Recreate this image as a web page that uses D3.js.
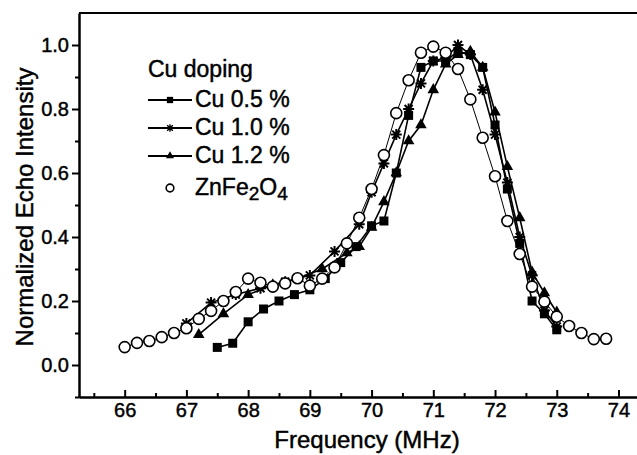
<!DOCTYPE html>
<html>
<head>
<meta charset="utf-8">
<script src="https://cdn.jsdelivr.net/npm/d3@7"></script>
<style>
  body { margin: 0; background: #fff; }
  svg { display: block; font-family: "Liberation Sans", Arial, sans-serif; }
  svg text { fill: #000; stroke: #000; stroke-width: 0.45px; }
  .axis path, .axis line { stroke: #000; stroke-width: 2px; }
  .axis text { font-size: 20px; }
</style>
</head>
<body>
<svg id="chart"></svg>
<script>
// data
const freqZn = [66.0, 66.2, 66.4, 66.6, 66.8, 67.0, 67.2, 67.4, 67.6, 67.8, 68.0, 68.2, 68.4, 68.6, 68.8, 69.0, 69.2, 69.4, 69.6, 69.8,
                70.0, 70.2, 70.4, 70.6, 70.8, 71.0, 71.2, 71.4, 71.6, 71.8, 72.0, 72.2, 72.4, 72.6, 72.8, 73.0, 73.2, 73.4, 73.6, 73.8];
const valZn = [0.056, 0.069, 0.075, 0.087, 0.100, 0.115, 0.144, 0.169, 0.200, 0.228, 0.270, 0.257, 0.245, 0.255, 0.271, 0.248, 0.270, 0.305, 0.38, 0.46,
               0.55, 0.656, 0.787, 0.89, 0.976, 0.995, 0.976, 0.925, 0.83, 0.71, 0.59, 0.45, 0.347, 0.245, 0.198, 0.151, 0.122, 0.100, 0.081, 0.082];

const freqCu05 = [67.5, 67.75, 68.0, 68.25, 68.5, 68.75, 69.0, 69.25, 69.5, 69.75, 70.0, 70.2, 70.4, 70.6, 70.8, 71.0, 71.2, 71.4, 71.6, 71.8, 72.0, 72.2, 72.4, 72.6, 72.8, 73.0];
const valCu05 = [0.055, 0.068, 0.135, 0.175, 0.20, 0.22, 0.235, 0.27, 0.32, 0.37, 0.435, 0.45, 0.60, 0.78, 0.93, 0.95, 0.95, 0.98, 0.97, 0.93, 0.75, 0.55, 0.38, 0.20, 0.16, 0.11];

const freqCu10 = [67.0, 67.4, 67.8, 68.2, 68.6, 69.0, 69.4, 69.8, 70.0, 70.2, 70.4, 70.6, 70.8, 71.0, 71.2, 71.4, 71.6, 71.8, 72.0, 72.2, 72.4, 72.6, 72.8, 73.0];
const valCu10 = [0.13, 0.195, 0.22, 0.24, 0.26, 0.28, 0.355, 0.44, 0.54, 0.63, 0.72, 0.80, 0.88, 0.95, 0.96, 1.0, 0.97, 0.86, 0.72, 0.57, 0.40, 0.28, 0.17, 0.12];

const freqCu12 = [67.2, 67.6, 68.0, 68.4, 68.8, 69.2, 69.6, 69.8, 70.0, 70.2, 70.4, 70.6, 70.8, 71.0, 71.2, 71.4, 71.6, 71.8, 72.0, 72.2, 72.4, 72.6, 72.8, 73.0];
const valCu12 = [0.095, 0.16, 0.22, 0.25, 0.27, 0.30, 0.35, 0.37, 0.43, 0.51, 0.60, 0.70, 0.75, 0.86, 0.94, 0.97, 0.98, 0.93, 0.79, 0.62, 0.46, 0.29, 0.225, 0.165];

const xMajor = [66, 67, 68, 69, 70, 71, 72, 73, 74];
const yMajor = [0.0, 0.2, 0.4, 0.6, 0.8, 1.0];

const W = 637, H = 455;
const margin = { top: 13, right: 0, bottom: 58, left: 79 };

const svg = d3.select("#chart").attr("width", W).attr("height", H);

const x = d3.scaleLinear().domain([65.26, 74.3]).range([margin.left, W - margin.right]);
const y = d3.scaleLinear().domain([-0.1, 1.1]).range([H - margin.bottom, margin.top]);

// top frame line
svg.append("line")
    .attr("x1", margin.left).attr("x2", W)
    .attr("y1", margin.top).attr("y2", margin.top)
    .attr("stroke", "#000").attr("stroke-width", 2);

// x axis: ticks pointing inward
const xMinor = d3.range(65.5, 74.5, 1);
svg.append("g").attr("class", "axis")
    .attr("transform", `translate(0,${H - margin.bottom})`)
    .call(d3.axisBottom(x).tickValues(xMinor).tickSizeInner(-4).tickSizeOuter(0).tickFormat(""));
svg.append("g").attr("class", "axis")
    .attr("transform", `translate(0,${H - margin.bottom})`)
    .call(d3.axisBottom(x).tickValues(xMajor).tickSizeInner(-7).tickSizeOuter(0).tickPadding(6).tickFormat(d3.format("d")));

// y axis: ticks pointing outward
const yMinor = [-0.1, 0.1, 0.3, 0.5, 0.7, 0.9];
svg.append("g").attr("class", "axis")
    .attr("transform", `translate(${margin.left},0)`)
    .call(d3.axisLeft(y).tickValues(yMinor).tickSizeInner(4).tickSizeOuter(0).tickFormat(""));
svg.append("g").attr("class", "axis")
    .attr("transform", `translate(${margin.left},0)`)
    .call(d3.axisLeft(y).tickValues(yMajor).tickSizeInner(7).tickSizeOuter(0).tickPadding(3).tickFormat(d3.format(".1f")));

// axis titles
svg.append("text")
    .attr("x", 367).attr("y", 448)
    .attr("text-anchor", "middle")
    .style("font-size", "24px")
    .text("Frequency (MHz)");

svg.append("text")
    .attr("transform", `translate(33,207) rotate(-90)`)
    .attr("text-anchor", "middle")
    .style("font-size", "24px")
    .text("Normalized Echo Intensity");

// markers
const star = "M0,-5.5V5.5M-5.5,0H5.5M-4,-4L4,4M-4,4L4,-4";
function drawMarker(sel, kind, s) {
    if (kind === "square") {
        sel.append("rect").attr("x", -4.5 * s).attr("y", -4.5 * s).attr("width", 9 * s).attr("height", 9 * s).attr("fill", "#000");
    } else if (kind === "triangle") {
        sel.append("path").attr("d", d3.symbol(d3.symbolTriangle, 58 * s * s)()).attr("fill", "#000");
    } else if (kind === "star") {
        sel.append("path").attr("d", star).attr("transform", `scale(${s})`).attr("stroke", "#000").attr("stroke-width", 2).attr("fill", "none");
    } else {
        sel.append("circle").attr("r", 5.5 * s).attr("fill", "#fff").attr("stroke", "#000").attr("stroke-width", 1.6);
    }
}

const series = [
    { name: "Cu 0.5 %", freq: freqCu05, val: valCu05, kind: "square", width: 1.6 },
    { name: "Cu 1.0 %", freq: freqCu10, val: valCu10, kind: "star", width: 1.6 },
    { name: "Cu 1.2 %", freq: freqCu12, val: valCu12, kind: "triangle", width: 1.6 },
    { name: "ZnFe2O4", freq: freqZn, val: valZn, kind: "circle", width: 1 }
];

const line = d3.line().x(d => x(d[0])).y(d => y(d[1]));

series.forEach(s => {
    const pts = s.freq.map((f, i) => [f, s.val[i]]);
    svg.append("path")
        .attr("d", line(pts))
        .attr("fill", "none")
        .attr("stroke", "#000")
        .attr("stroke-width", s.width);
});

series.forEach(s => {
    const pts = s.freq.map((f, i) => [f, s.val[i]]);
    svg.append("g").selectAll("g")
        .data(pts)
        .enter().append("g")
        .attr("transform", d => `translate(${x(d[0])},${y(d[1])})`)
        .each(function () { drawMarker(d3.select(this), s.kind, 1); });
});

// legend
const legend = svg.append("g").style("font-size", "23px");
legend.append("text").attr("x", 148).attr("y", 77).text("Cu doping");

const rowY = [100, 128, 156, 188];
series.forEach((s, i) => {
    const g = legend.append("g").attr("transform", `translate(0,${rowY[i]})`);
    if (s.kind !== "circle") {
        g.append("line").attr("x1", 148).attr("x2", 192).attr("y1", 0).attr("y2", 0)
            .attr("stroke", "#000").attr("stroke-width", 2);
    }
    const m = g.append("g").attr("transform", "translate(170,0)");
    drawMarker(m, s.kind, 0.7);
    const t = g.append("text").attr("x", 195).attr("y", 7);
    if (s.kind === "circle") {
        t.append("tspan").text("ZnFe");
        t.append("tspan").attr("dy", 5).style("font-size", "19px").text("2");
        t.append("tspan").attr("dy", -5).text("O");
        t.append("tspan").attr("dy", 5).style("font-size", "19px").text("4");
    } else {
        t.text(s.name);
    }
});
</script>
</body>
</html>
